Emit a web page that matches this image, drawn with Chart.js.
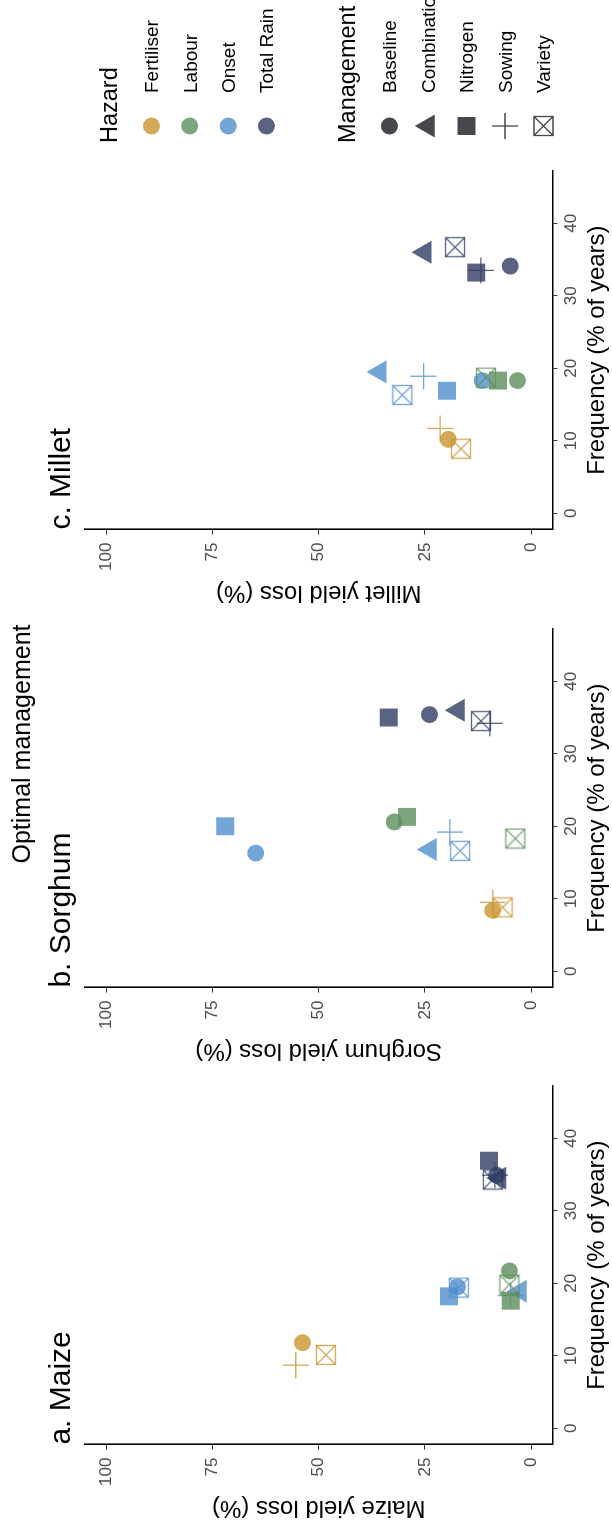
<!DOCTYPE html>
<html>
<head>
<meta charset="utf-8">
<script src="https://cdn.jsdelivr.net/npm/chart.js@4.4.0/dist/chart.umd.min.js"></script>
<style>
  html, body { margin: 0; padding: 0; background: #fff; overflow: hidden; }
  #fig {
    position: absolute; left: 0; top: 0;
    width: 1528px; height: 612px;
    transform-origin: 0 0;
    transform: translate(0, 1528px) rotate(-90deg);
    font-family: "Liberation Sans", Arial, sans-serif;
  }
  #fig canvas { position: absolute; top: 0; }
  #fig svg { position: absolute; left: 0; top: 0; }
</style>
</head>
<body>
<div id="fig">
  <canvas id="maize" width="460" height="612" style="left:0px"></canvas>
  <canvas id="sorghum" width="460" height="612" style="left:457px"></canvas>
  <canvas id="millet" width="460" height="612" style="left:915px"></canvas>
  <svg id="overlay" width="1528" height="612"></svg>
</div>
<script>
// management order: Baseline, Combination, Nitrogen, Sowing, Variety
const management = ["Baseline", "Combination", "Nitrogen", "Sowing", "Variety"];
const hazards = ["Fertiliser", "Labour", "Onset", "Total Rain"];
const hazardColors = ["rgba(201,149,46,0.8)", "rgba(92,142,92,0.8)", "rgba(80,142,205,0.8)", "rgba(49,61,99,0.8)"];
const freqTicks = [0, 10, 20, 30, 40];
const lossTicks = [0, 25, 50, 75, 100];

// rows follow hazards, columns follow management (null = not shown)
const maizeFreq = [
  [11.8, null, null, 8.7, 10.1],
  [21.7, null, 17.6, null, 19.8],
  [19.5, 18.9, 18.2, 18.3, 19.4],
  [34.9, 34.5, 36.9, 34.9, 34.3]
];
const maizeLoss = [
  [53.8, null, null, 55.4, 48.3],
  [5.1, null, 4.8, null, 5.1],
  [17.3, 2.6, 19.3, 4.8, 17.0],
  [8.1, 7.4, 9.9, 8.5, 9.0]
];
const sorghumFreq = [
  [8.4, null, null, 9.5, 8.8],
  [20.6, null, 21.3, null, 18.3],
  [16.3, 16.8, 20.0, 19.2, 16.6],
  [35.4, 36.0, 35.0, 34.2, 34.5]
];
const sorghumLoss = [
  [9.0, null, null, 9.0, 6.7],
  [32.2, null, 29.2, null, 3.7],
  [64.8, 23.8, 72.0, 19.1, 16.7],
  [23.9, 17.2, 33.5, 9.7, 11.8]
];
const milletFreq = [
  [10.2, null, null, 11.7, 8.9],
  [18.3, null, 18.3, null, 18.7],
  [18.3, 19.5, 16.9, 18.9, 16.3],
  [34.1, 36.0, 33.2, 33.5, 36.7]
];
const milletLoss = [
  [19.5, null, null, 21.4, 16.5],
  [3.2, null, 7.8, null, 10.6],
  [11.5, 35.6, 19.8, 25.3, 30.3],
  [4.9, 25.0, 12.9, 11.8, 17.9]
];

Chart.defaults.font.family = '"Liberation Sans", Arial, sans-serif';

// boxed cross (R shape 7) as a small canvas
function boxX(color) {
  const c = document.createElement("canvas");
  c.width = 22; c.height = 22;
  const g = c.getContext("2d");
  g.strokeStyle = color; g.lineWidth = 1.3;
  g.strokeRect(1.5, 1.5, 19, 19);
  g.beginPath();
  g.moveTo(1.5, 1.5); g.lineTo(20.5, 20.5);
  g.moveTo(20.5, 1.5); g.lineTo(1.5, 20.5);
  g.stroke();
  return c;
}
const boxes = hazardColors.map(boxX);

const shapeStyle = ["circle", "triangle", "rect", "cross", null];
const shapeRadius = [8.5, 13.3, 12.7, 13, 9.5];
const shapeBorder = [0, 0, 0, 1.3, 0];

function buildSets(freq, loss) {
  return hazards.map((h, i) => {
    const pts = [], styles = [], radii = [], widths = [];
    management.forEach((m, j) => {
      if (freq[i][j] === null) return;
      pts.push({ x: freq[i][j], y: loss[i][j] });
      styles.push(j === 4 ? boxes[i] : shapeStyle[j]);
      radii.push(shapeRadius[j]);
      widths.push(shapeBorder[j]);
    });
    return {
      label: h,
      data: pts,
      showLine: false,
      pointStyle: styles,
      pointRadius: radii,
      pointBorderWidth: widths,
      pointBackgroundColor: hazardColors[i],
      pointBorderColor: hazardColors[i]
    };
  });
}

const panelTitle = {
  id: "panelTitle",
  afterDraw(chart, args, opts) {
    const { ctx, chartArea } = chart;
    ctx.save();
    ctx.font = '30px "Liberation Sans", Arial, sans-serif';
    ctx.fillStyle = "#000";
    ctx.textBaseline = "alphabetic";
    ctx.fillText(opts.text, chartArea.left, 70);
    ctx.restore();
  }
};

function makePanel(id, title, yTitle, freq, loss) {
  return new Chart(document.getElementById(id), {
    type: "scatter",
    data: { datasets: buildSets(freq, loss) },
    plugins: [panelTitle],
    options: {
      responsive: false,
      animation: false,
      events: [],
      layout: { padding: { left: 0, right: 17.7, top: 85.1, bottom: 0 } },
      plugins: {
        legend: { display: false },
        tooltip: { enabled: false },
        panelTitle: { text: title }
      },
      scales: {
        x: {
          type: "linear", min: -2.25, max: 47.25,
          afterBuildTicks: s => { s.ticks = freqTicks.map(v => ({ value: v })); },
          afterFit: s => { s.height = 59.7; },
          grid: { drawOnChartArea: false, tickLength: 5, tickColor: "#333", tickWidth: 1 },
          border: { color: "#000", width: 1.6 },
          ticks: { font: { size: 17 }, color: "#4d4d4d", padding: 4, maxRotation: 0 },
          title: { display: true, text: "Frequency (% of years)", font: { size: 24 }, color: "#000", padding: { top: 0, bottom: 0 } }
        },
        y: {
          type: "linear", min: -5, max: 105,
          afterBuildTicks: s => { s.ticks = lossTicks.map(v => ({ value: v })); },
          afterFit: s => { s.width = 83.4; },
          grid: { drawOnChartArea: false, tickLength: 5, tickColor: "#333", tickWidth: 1 },
          border: { color: "#000", width: 1.6 },
          ticks: { font: { size: 17 }, color: "#4d4d4d", padding: 8 },
          title: { display: true, text: yTitle, font: { size: 24 }, color: "#000", padding: { top: 6, bottom: 0 } }
        }
      }
    }
  });
}

makePanel("maize", "a. Maize", "Maize yield loss (%)", maizeFreq, maizeLoss);
makePanel("sorghum", "b. Sorghum", "Sorghum yield loss (%)", sorghumFreq, sorghumLoss);
makePanel("millet", "c. Millet", "Millet yield loss (%)", milletFreq, milletLoss);

// overall title and legend
const svg = document.getElementById("overlay");
const NS = "http://www.w3.org/2000/svg";
function el(tag, attrs, text) {
  const e = document.createElementNS(NS, tag);
  for (const k in attrs) e.setAttribute(k, attrs[k]);
  if (text) e.textContent = text;
  svg.appendChild(e);
  return e;
}
const fam = '"Liberation Sans", Arial, sans-serif';
el("text", { x: 784, y: 30, "text-anchor": "middle", "font-size": 25, "font-family": fam }, "Optimal management");

const keyX = 1402, labX = 1435;
el("text", { x: 1385, y: 117, "font-size": 23.5, "font-family": fam }, "Hazard");
hazards.forEach((h, i) => {
  const cy = 151.4 + 38.4 * i;
  el("circle", { cx: keyX, cy: cy, r: 8.5, fill: hazardColors[i] });
  el("text", { x: labX, y: cy + 6.8, "font-size": 19, "font-family": fam }, h);
});

el("text", { x: 1385, y: 355, "font-size": 23.5, "font-family": fam }, "Management");
const keyCol = "#46484e";
management.forEach((m, j) => {
  const cy = 389.5 + 38.5 * j;
  if (j === 0) el("circle", { cx: keyX, cy: cy, r: 8.5, fill: keyCol });
  if (j === 1) el("polygon", { points: `${keyX},${cy - 13.3} ${keyX + 11.5},${cy + 6.65} ${keyX - 11.5},${cy + 6.65}`, fill: keyCol });
  if (j === 2) el("rect", { x: keyX - 9, y: cy - 9, width: 18, height: 18, fill: keyCol });
  if (j === 3) el("path", { d: `M${keyX - 13},${cy}H${keyX + 13}M${keyX},${cy - 13}V${cy + 13}`, stroke: keyCol, "stroke-width": 1.3, fill: "none" });
  if (j === 4) el("path", { d: `M${keyX - 9.5},${cy - 9.5}h19v19h-19zM${keyX - 9.5},${cy - 9.5}l19,19M${keyX + 9.5},${cy - 9.5}l-19,19`, stroke: keyCol, "stroke-width": 1.3, fill: "none" });
  el("text", { x: labX, y: cy + 6.8, "font-size": 19, "font-family": fam }, m);
});
</script>
</body>
</html>
